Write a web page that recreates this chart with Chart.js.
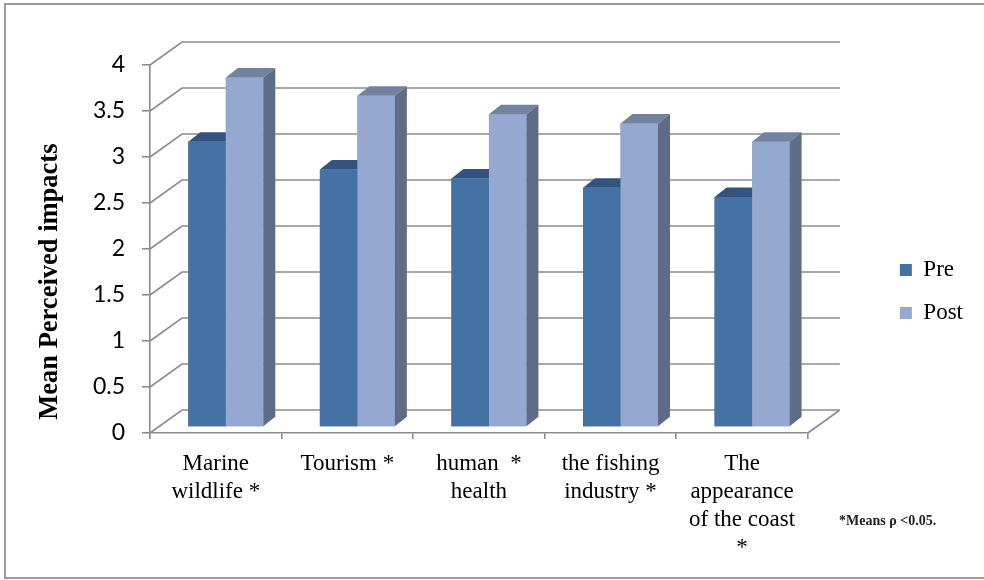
<!DOCTYPE html>
<html>
<head>
<meta charset="utf-8">
<script src="https://cdn.jsdelivr.net/npm/chart.js@4.4.0/dist/chart.umd.min.js"></script>
<style>
  html, body { margin: 0; padding: 0; background: #fff; }
</style>
</head>
<body>
<canvas id="chart" width="984" height="580"></canvas>
<script>
// Chart data
const categories = [
    ['Marine', 'wildlife *'],
    ['Tourism *'],
    ['human  *', 'health'],
    ['the fishing', 'industry *'],
    ['The', 'appearance', 'of the coast', '*']
];
const seriesNames = ['Pre', 'Post'];
const preValues = [3.1, 2.8, 2.7, 2.6, 2.5];
const postValues = [3.8, 3.6, 3.4, 3.3, 3.1];
const yMin = 0;
const yMax = 4;
const yStep = 0.5;
const axisTitle = 'Mean Perceived impacts';
const footnote = '*Means \u03c1 <0.05.';

// 3D look (Excel style)
const WALL = { dx: 32, dy: -23 };      // back wall offset from front axis
const SHIFT = { dx: 10, dy: -6 };      // bars sit a bit behind the front plane
const DEPTH = { dx: 12, dy: -9.5 };    // bar depth
const frontColors = ['#4572a5', '#95a9d0'];
const faceColors = [
    { top: '#34547f', side: '#2f4a70' },
    { top: '#7283a1', side: '#5e6c85' }
];
const lineGray = '#8c8c8c';

function drawFaces(ctx, bar, c) {
    const { x, y, base, width } = bar.getProps(['x', 'y', 'base', 'width'], true);
    const x0 = x - width / 2;
    const x1 = x + width / 2;
    // top face
    ctx.fillStyle = c.top;
    ctx.beginPath();
    ctx.moveTo(x0, y);
    ctx.lineTo(x1, y);
    ctx.lineTo(x1 + DEPTH.dx, y + DEPTH.dy);
    ctx.lineTo(x0 + DEPTH.dx, y + DEPTH.dy);
    ctx.closePath();
    ctx.fill();
    // side face
    ctx.fillStyle = c.side;
    ctx.beginPath();
    ctx.moveTo(x1, y);
    ctx.lineTo(x1 + DEPTH.dx, y + DEPTH.dy);
    ctx.lineTo(x1 + DEPTH.dx, base + DEPTH.dy);
    ctx.lineTo(x1, base);
    ctx.closePath();
    ctx.fill();
}

const threeD = {
    id: 'threeD',
    beforeDraw(chart) {
        const ctx = chart.ctx;
        ctx.save();
        ctx.strokeStyle = '#9b9b9b';
        ctx.lineWidth = 2;
        ctx.strokeRect(5, 4, 1000, 574);
        ctx.restore();
    },
    beforeDatasetsDraw(chart) {
        const { ctx, chartArea: a, scales: { y } } = chart;
        ctx.save();
        ctx.strokeStyle = lineGray;
        ctx.lineWidth = 1.6;
        ctx.beginPath();
        y.ticks.forEach(t => {
            const py = y.getPixelForValue(t.value);
            ctx.moveTo(a.left, py);
            ctx.lineTo(a.left + WALL.dx, py + WALL.dy);
            ctx.lineTo(a.right + WALL.dx, py + WALL.dy);
        });
        ctx.moveTo(a.right, a.bottom);
        ctx.lineTo(a.right + WALL.dx, a.bottom + WALL.dy);
        ctx.stroke();
        ctx.restore();
    },
    beforeDatasetDraw(chart) {
        chart.ctx.save();
        chart.ctx.translate(SHIFT.dx, SHIFT.dy);
    },
    afterDatasetDraw(chart) {
        chart.ctx.restore();
    },
    afterDatasetsDraw(chart) {
        // redraw each group left to right so the right bar hides the left one's sides
        const ctx = chart.ctx;
        const metas = chart.data.datasets.map((d, i) => chart.getDatasetMeta(i));
        ctx.save();
        ctx.translate(SHIFT.dx, SHIFT.dy);
        chart.data.labels.forEach((l, i) => {
            metas.forEach((meta, d) => {
                const bar = meta.data[i];
                bar.draw(ctx);
                drawFaces(ctx, bar, faceColors[d]);
            });
        });
        ctx.restore();
    },
    afterDraw(chart) {
        const ctx = chart.ctx;
        ctx.save();
        ctx.fillStyle = '#222';
        ctx.font = 'bold 14px "Liberation Serif"';
        ctx.textBaseline = 'alphabetic';
        ctx.fillText(footnote, 839, 525);
        ctx.restore();
    }
};

const serif = '"Liberation Serif", "Times New Roman", serif';

new Chart(document.getElementById('chart'), {
    type: 'bar',
    data: {
        labels: categories,
        datasets: [
            {
                label: seriesNames[0],
                data: preValues,
                backgroundColor: frontColors[0]
            },
            {
                label: seriesNames[1],
                data: postValues,
                backgroundColor: frontColors[1]
            }
        ]
    },
    options: {
        responsive: false,
        animation: false,
        devicePixelRatio: 1,
        datasets: {
            bar: {
                barPercentage: 1,
                categoryPercentage: 0.57,
                borderWidth: 0
            }
        },
        layout: {
            padding: { top: 3, right: 11, bottom: 0, left: 0 }
        },
        scales: {
            x: {
                grid: {
                    display: true,
                    drawOnChartArea: false,
                    tickLength: 6,
                    color: lineGray,
                    lineWidth: 1.6
                },
                border: { color: lineGray, width: 1.6 },
                ticks: {
                    font: { family: serif, size: 23, lineHeight: 1.22 },
                    color: '#000',
                    padding: 11,
                    maxRotation: 0,
                    autoSkip: false
                },
                afterFit: s => { s.height = 147; }
            },
            y: {
                min: yMin,
                max: yMax,
                grid: {
                    display: true,
                    drawOnChartArea: false,
                    tickLength: 8,
                    color: lineGray,
                    lineWidth: 1.6
                },
                border: { color: lineGray, width: 1.6 },
                ticks: {
                    stepSize: yStep,
                    callback: v => String(v),
                    font: { family: 'Lato', size: 23 },
                    color: '#000',
                    padding: 17
                },
                title: {
                    display: true,
                    text: '  ' + axisTitle,
                    align: 'start',
                    color: '#000',
                    font: { family: serif, size: 26.5, weight: 'bold' },
                    padding: { top: 34, bottom: 0 }
                },
                afterFit: s => { s.width = 150; s.paddingTop = 65; }
            },
            spacer: {
                type: 'linear',
                position: 'right',
                display: true,
                grid: { display: false },
                border: { display: false },
                ticks: { display: false },
                afterFit: s => { s.width = 72; }
            }
        },
        plugins: {
            legend: {
                position: 'right',
                labels: {
                    font: { family: serif, size: 23 },
                    color: '#000',
                    boxWidth: 12,
                    boxHeight: 12,
                    padding: 20
                }
            },
            tooltip: { enabled: false }
        }
    },
    plugins: [threeD]
});
</script>
</body>
</html>
